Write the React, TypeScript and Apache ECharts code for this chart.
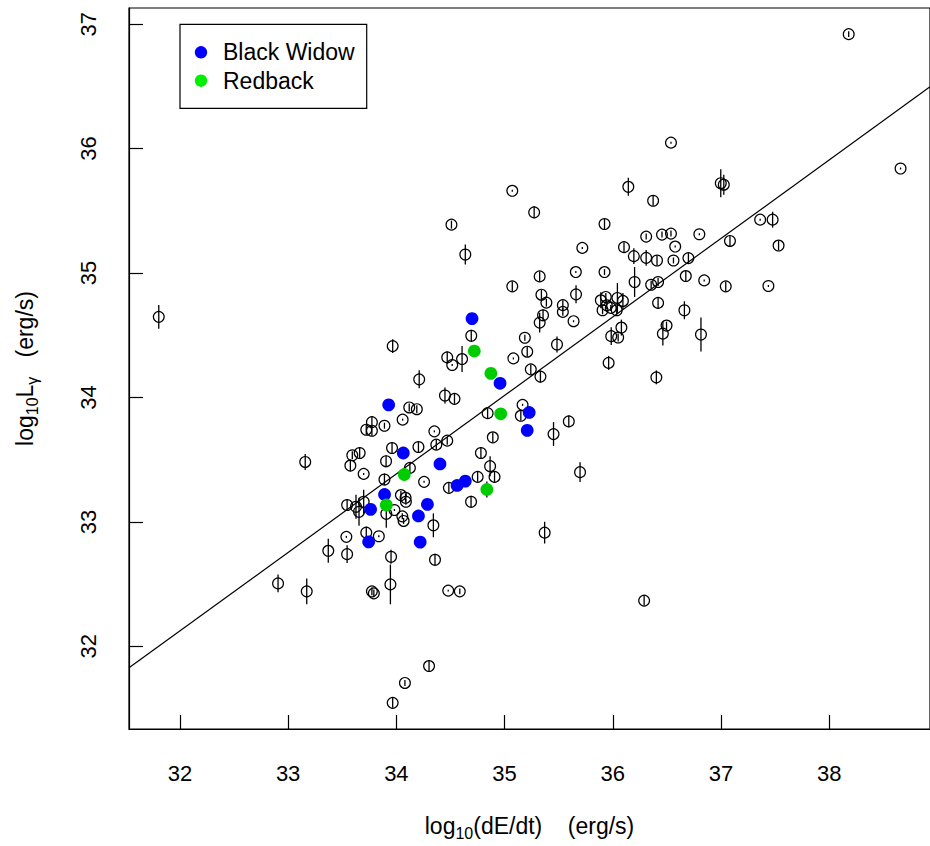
import React, { useEffect, useRef } from "react";
import * as echarts from "echarts";

// ---- data (log10 values) ----
const psrX = [
  31.805, 33.966, 34.211, 34.119, 34.189, 34.058, 33.774, 33.722, 33.774, 33.89,
  33.96, 34.204, 33.661, 33.593, 33.575, 33.905, 34.125, 33.158, 33.698, 33.89,
  33.545, 33.698, 33.627, 33.655, 33.907, 34.042, 34.085, 34.088, 33.982, 34.055,
  34.067, 33.538, 33.722, 33.838, 33.371, 33.545, 33.951, 32.907, 33.172, 33.774,
  33.792, 33.945, 34.079, 33.966, 34.357, 34.479, 34.586, 36.289, 34.302, 34.692,
  34.47, 34.516, 34.607, 34.449, 34.537, 35.187, 35.209, 35.081, 35.242, 35.331,
  35.484, 35.386, 35.538, 35.355, 35.324, 35.538, 35.637, 36.418, 36.079, 35.985,
  36.049, 36.496, 36.462, 35.961, 36.402, 35.166, 35.15, 34.843, 34.891, 35.593,
  35.452, 34.351, 34.47, 34.369, 34.781, 34.866, 34.907, 34.751, 34.485, 34.256,
  34.69, 34.342, 35.37, 35.697, 36.537, 38.658, 36.143, 36.997, 37.025, 36.372,
  35.923, 35.718, 36.103, 36.308, 36.454, 36.537, 36.799, 36.576, 36.194, 36.308,
  36.408, 36.56, 36.698, 37.082, 37.361, 37.476, 37.531, 35.658, 35.923, 36.201,
  36.354, 36.418, 36.674, 36.844, 37.043, 37.437, 35.66, 35.889, 35.935, 35.944,
  35.905, 35.981, 36.042, 36.093, 36.036, 36.661, 36.814, 35.071, 35.273, 34.509,
  34.637, 35.324, 35.071, 35.34, 38.179,
];
const psrY = [
  34.648, 34.413, 34.146, 33.92, 33.906, 33.822, 33.802, 33.741, 33.733, 33.773,
  33.594, 33.602, 33.554, 33.536, 33.453, 33.488, 33.434, 33.482, 33.386, 33.341,
  33.136, 33.162, 33.122, 33.082, 33.066, 33.216, 33.194, 33.162, 33.096, 33.045,
  33.008, 32.88, 32.914, 32.885, 32.768, 32.741, 32.72, 32.506, 32.442, 32.442,
  32.426, 32.498, 31.706, 31.546, 32.696, 32.448, 32.442, 32.368, 31.842, 34.496,
  34.322, 34.261, 34.309, 34.016, 33.989, 34.48, 34.368, 34.314, 34.226, 34.168,
  34.426, 34.762, 34.742, 34.661, 34.602, 34.688, 34.613, 34.76, 34.562, 34.493,
  34.482, 34.578, 34.513, 34.278, 34.162, 33.941, 33.853, 33.874, 33.68, 33.808,
  33.706, 33.728, 33.653, 33.621, 33.554, 33.448, 33.362, 33.362, 33.274, 33.322,
  33.162, 32.973, 32.914, 33.4, 36.048, 35.84, 35.693, 35.722, 35.71, 35.581,
  35.394, 35.202, 35.208, 35.293, 35.309, 35.317, 35.312, 35.213, 35.136, 35.122,
  35.101, 35.101, 35.12, 35.258, 35.429, 35.429, 35.221, 35.008, 35.008, 34.928,
  34.906, 34.928, 34.976, 34.941, 34.893, 34.896, 34.829, 34.781, 34.808, 34.741,
  34.701, 34.72, 34.8, 34.776, 34.701, 34.701, 34.506, 35.661, 35.488, 35.389,
  35.149, 34.973, 34.893, 34.826, 36.92,
];
const psrErr = [
  0.096, 0.056, 0.072, 0.032, 0.032, 0.008, 0.048, 0.04, 0.04, 0.024,
  0.048, 0.04, 0.048, 0.032, 0.048, 0.048, 0.04, 0.064, 0.008, 0.048,
  0.048, 0.096, 0.096, 0.112, 0.112, 0.032, 0.032, 0.024, 0.008, 0.024,
  0.024, 0.008, 0.048, 0.008, 0.096, 0.072, 0.056, 0.072, 0.104, 0.032,
  0.032, 0.16, 0.024, 0.04, 0.048, 0.008, 0.024, 0.04, 0.048, 0.048,
  0.048, 0.008, 0.104, 0.064, 0.04, 0.024, 0.04, 0.008, 0.04, 0.048,
  0.064, 0.032, 0.04, 0.048, 0.08, 0.032, 0.008, 0.048, 0.064, 0.072,
  0.032, 0.032, 0.096, 0.056, 0.056, 0.008, 0.04, 0.04, 0.04, 0.048,
  0.096, 0.008, 0.032, 0.04, 0.048, 0.08, 0.048, 0.04, 0.04, 0.008,
  0.048, 0.096, 0.088, 0.08, 0.008, 0.008, 0.072, 0.112, 0.08, 0.04,
  0.04, 0.008, 0.04, 0.024, 0.024, 0.024, 0.008, 0.008, 0.064, 0.064,
  0.04, 0.024, 0.04, 0.04, 0.008, 0.064, 0.04, 0.008, 0.024, 0.12,
  0.032, 0.032, 0.04, 0.008, 0.04, 0.008, 0.072, 0.064, 0.032, 0.032,
  0.032, 0.024, 0.12, 0.064, 0.032, 0.072, 0.136, 0.008, 0.048, 0.032,
  0.08, 0.04, 0.04, 0.04, 0.024,
];

const bwX = [33.929, 34.064, 33.891, 33.762, 34.204, 33.744, 34.22, 34.699, 34.958, 35.227, 35.209, 34.403, 34.561, 34.637, 34.287];
const bwY = [33.941, 33.554, 33.221, 33.101, 33.048, 32.84, 32.838, 34.634, 34.114, 33.88, 33.736, 33.466, 33.293, 33.328, 33.141];
const bwErr = [0.03, 0.03, 0.03, 0.03, 0.03, 0.03, 0.03, 0.03, 0.03, 0.03, 0.03, 0.03, 0.03, 0.03, 0.03];

const rbX = [34.72, 34.873, 34.964, 34.073, 33.907, 34.836];
const rbY = [34.373, 34.194, 33.869, 33.381, 33.136, 33.261];
const rbErr = [0.03, 0.03, 0.03, 0.03, 0.03, 0.064];

// fitted relation log10 Lγ = FIT_A + FIT_B * log10 Edot
const FIT_A = 11.932;
const FIT_B = 0.631;

const xTicks = [32, 33, 34, 35, 36, 37, 38];
const yTicks = [32, 33, 34, 35, 36, 37];
const X_MIN = 31.53;
const X_MAX = 38.93;
const Y_MIN = 31.336;
const Y_MAX = 37.13;

const FONT = '"Liberation Sans", Arial, Helvetica, sans-serif';
const BW_COLOR = "#0000ff";
const RB_COLOR = "#00cd00";
const RB_LEGEND = "#00f000";

const zip3 = (a: number[], b: number[], c: number[]) => a.map((v, i) => [v, b[i], c[i]]);

export default function App() {
  const ref = useRef<HTMLDivElement>(null);

  useEffect(() => {
    if (!ref.current) return;
    const chart = echarts.init(ref.current, undefined, { renderer: "svg" });

    const richName = {
      n: { fontSize: 23, fontFamily: FONT, color: "#000", lineHeight: 30, verticalAlign: "middle" },
      s: { fontSize: 16, fontFamily: FONT, color: "#000", lineHeight: 16, verticalAlign: "bottom" },
    };

    const errRender = (withCircle: boolean) => (params: any, api: any) => {
      const x = api.value(0);
      const y = api.value(1);
      const e = api.value(2);
      const c = api.coord([x, y]);
      const t = api.coord([x, y + e]);
      const b = api.coord([x, y - e]);
      const children: any[] = [
        { type: "line", shape: { x1: c[0], y1: t[1], x2: c[0], y2: b[1] }, style: { stroke: "#000", lineWidth: 1.3 } },
      ];
      if (withCircle) {
        children.push({
          type: "circle",
          shape: { cx: c[0], cy: c[1], r: 5.4 },
          style: { fill: "none", stroke: "#000", lineWidth: 1.2 },
        });
      }
      return { type: "group", children };
    };

    const option: any = {
      animation: false,
      backgroundColor: "#fff",
      grid: {
        left: 129,
        top: 8,
        width: 808,
        height: 724.3,
        show: true,
        borderColor: "#000",
        borderWidth: 1.2,
        backgroundColor: "transparent",
      },
      xAxis: {
        type: "value",
        min: X_MIN,
        max: X_MAX,
        axisLine: { show: true, onZero: false, lineStyle: { color: "#000", width: 1.2 } },
        axisTick: { show: true, inside: true, length: 14, customValues: xTicks, lineStyle: { color: "#000", width: 1.2 } },
        axisLabel: { customValues: xTicks, margin: 33, fontSize: 22, fontFamily: FONT, color: "#000" },
        splitLine: { show: false },
        name: "{n|log}{s|10}{n|(dE/dt)\u00a0\u00a0\u00a0\u00a0(erg/s)}",
        nameLocation: "middle",
        nameGap: 82,
        nameTextStyle: { rich: richName },
      },
      yAxis: {
        type: "value",
        min: Y_MIN,
        max: Y_MAX,
        axisLine: { show: true, onZero: false, lineStyle: { color: "#000", width: 1.2 } },
        axisTick: { show: true, inside: true, length: 14, customValues: yTicks, lineStyle: { color: "#000", width: 1.2 } },
        axisLabel: { customValues: yTicks, rotate: 90, margin: 30, fontSize: 22, fontFamily: FONT, color: "#000" },
        splitLine: { show: false },
        name: "{n|log}{s|10}{n|L}{s|\u03b3}{n|\u00a0\u00a0\u00a0(erg/s)}",
        nameLocation: "middle",
        nameGap: 89,
        nameRotate: 90,
        nameTextStyle: { rich: richName },
      },
      series: [
        {
          type: "line",
          name: "fit",
          data: [
            [X_MIN, FIT_A + FIT_B * X_MIN],
            [X_MAX, FIT_A + FIT_B * X_MAX],
          ],
          symbol: "none",
          lineStyle: { color: "#000", width: 1.2 },
          silent: true,
          z: 1,
        },
        {
          type: "custom",
          name: "Pulsars",
          data: zip3(psrX, psrY, psrErr),
          encode: { x: 0, y: 1 },
          renderItem: errRender(true),
          z: 2,
        },
        {
          type: "custom",
          name: "bars",
          data: [...zip3(bwX, bwY, bwErr), ...zip3(rbX, rbY, rbErr)],
          encode: { x: 0, y: 1 },
          renderItem: errRender(false),
          z: 2,
        },
        {
          type: "scatter",
          name: "Black Widow",
          data: bwX.map((v, i) => [v, bwY[i]]),
          symbol: "circle",
          symbolSize: 12.8,
          itemStyle: { color: BW_COLOR, opacity: 1 },
          z: 3,
        },
        {
          type: "scatter",
          name: "Redback",
          data: rbX.map((v, i) => [v, rbY[i]]),
          symbol: "circle",
          symbolSize: 12.8,
          itemStyle: { color: RB_COLOR, opacity: 1 },
          z: 3,
        },
      ],
      graphic: [
        {
          type: "rect",
          shape: { x: 180, y: 24.3, width: 186.7, height: 84 },
          style: { fill: "none", stroke: "#000", lineWidth: 1.2 },
        },
        { type: "circle", shape: { cx: 201, cy: 52.3, r: 6.2 }, style: { fill: BW_COLOR } },
        { type: "circle", shape: { cx: 201, cy: 80.7, r: 6.2 }, style: { fill: RB_LEGEND } },
        {
          type: "text",
          x: 223,
          y: 52.3,
          style: { text: "Black Widow", font: `23px ${FONT}`, fill: "#000", verticalAlign: "middle", align: "left" },
        },
        {
          type: "text",
          x: 223,
          y: 80.7,
          style: { text: "Redback", font: `23px ${FONT}`, fill: "#000", verticalAlign: "middle", align: "left" },
        },
      ],
    };

    chart.setOption(option);
    return () => chart.dispose();
  }, []);

  return (
    <div
      ref={ref}
      style={{ position: "fixed", left: 0, top: 0, width: 930, height: 846, background: "#fff" }}
    />
  );
}
